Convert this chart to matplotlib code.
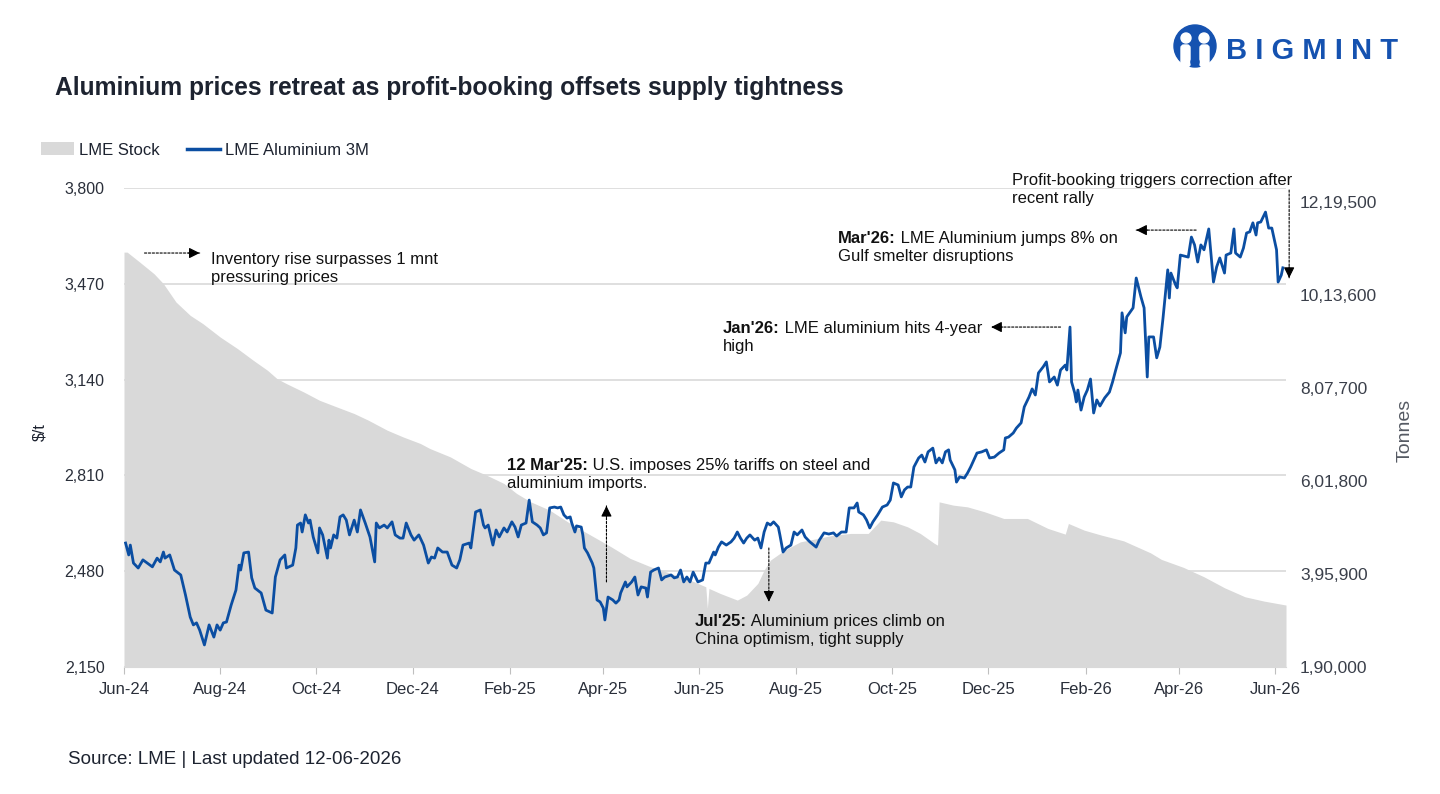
import matplotlib
matplotlib.use("Agg")
import matplotlib.pyplot as plt
import matplotlib.dates as mdates
from matplotlib.patches import Patch, Circle, FancyBboxPatch
from matplotlib.lines import Line2D
from matplotlib.ticker import FuncFormatter
import pandas as pd

plt.rcParams['font.family'] = ['Liberation Sans', 'DejaVu Sans']

# -- data ---------------------------------------------------------
price_dates = [
    "2024-06-02", "2024-06-04", "2024-06-05", "2024-06-07", "2024-06-10", "2024-06-13", "2024-06-19", "2024-06-22", "2024-06-24", "2024-06-26", "2024-06-27", "2024-06-30",
    "2024-07-03", "2024-07-07", "2024-07-10", "2024-07-13", "2024-07-15", "2024-07-17", "2024-07-19", "2024-07-22", "2024-07-25", "2024-07-28", "2024-07-30",
    "2024-08-01", "2024-08-03", "2024-08-05", "2024-08-08", "2024-08-11", "2024-08-13", "2024-08-14", "2024-08-16", "2024-08-19", "2024-08-21", "2024-08-23", "2024-08-27", "2024-08-30",
    "2024-09-03", "2024-09-05", "2024-09-08", "2024-09-11", "2024-09-12", "2024-09-16", "2024-09-18", "2024-09-19", "2024-09-21", "2024-09-22", "2024-09-24", "2024-09-26", "2024-09-27", "2024-09-29",
    "2024-10-02", "2024-10-03", "2024-10-05", "2024-10-08", "2024-10-09", "2024-10-10", "2024-10-12", "2024-10-14", "2024-10-16", "2024-10-18", "2024-10-20", "2024-10-22", "2024-10-25", "2024-10-27", "2024-10-29",
    "2024-11-01", "2024-11-04", "2024-11-07", "2024-11-08", "2024-11-10", "2024-11-13", "2024-11-15", "2024-11-18", "2024-11-20", "2024-11-23", "2024-11-25", "2024-11-27", "2024-11-30",
    "2024-12-02", "2024-12-05", "2024-12-08", "2024-12-11", "2024-12-13", "2024-12-15", "2024-12-17", "2024-12-20", "2024-12-23", "2024-12-26", "2024-12-29", "2024-12-31",
    "2025-01-02", "2025-01-06", "2025-01-07", "2025-01-10", "2025-01-13", "2025-01-15", "2025-01-16", "2025-01-18", "2025-01-21", "2025-01-23", "2025-01-25", "2025-01-28", "2025-01-30",
    "2025-02-02", "2025-02-04", "2025-02-06", "2025-02-08", "2025-02-11", "2025-02-13", "2025-02-15", "2025-02-18", "2025-02-20", "2025-02-22", "2025-02-24", "2025-02-26",
    "2025-03-01", "2025-03-03", "2025-03-05", "2025-03-07", "2025-03-09", "2025-03-11", "2025-03-12", "2025-03-14", "2025-03-15", "2025-03-18", "2025-03-19", "2025-03-20", "2025-03-22", "2025-03-25", "2025-03-26", "2025-03-28", "2025-03-30",
    "2025-04-01", "2025-04-02", "2025-04-04", "2025-04-07", "2025-04-09", "2025-04-11", "2025-04-12", "2025-04-15", "2025-04-16", "2025-04-19", "2025-04-21", "2025-04-23", "2025-04-25", "2025-04-28", "2025-04-29",
    "2025-05-01", "2025-05-03", "2025-05-06", "2025-05-08", "2025-05-10", "2025-05-14", "2025-05-16", "2025-05-18", "2025-05-20", "2025-05-22", "2025-05-24", "2025-05-26", "2025-05-28", "2025-05-31",
    "2025-06-03", "2025-06-05", "2025-06-07", "2025-06-10", "2025-06-11", "2025-06-13", "2025-06-15", "2025-06-18", "2025-06-21", "2025-06-23", "2025-06-25", "2025-06-27", "2025-06-29",
    "2025-07-01", "2025-07-03", "2025-07-06", "2025-07-08", "2025-07-10", "2025-07-12", "2025-07-14", "2025-07-16", "2025-07-18", "2025-07-21", "2025-07-22", "2025-07-24", "2025-07-26", "2025-07-29", "2025-07-31",
    "2025-08-02", "2025-08-05", "2025-08-07", "2025-08-10", "2025-08-14", "2025-08-16", "2025-08-19", "2025-08-22", "2025-08-25", "2025-08-27", "2025-08-30",
    "2025-09-02", "2025-09-04", "2025-09-07", "2025-09-09", "2025-09-10", "2025-09-13", "2025-09-15", "2025-09-17", "2025-09-19", "2025-09-22", "2025-09-25", "2025-09-28", "2025-09-30",
    "2025-10-02", "2025-10-05", "2025-10-07", "2025-10-09", "2025-10-11", "2025-10-13", "2025-10-15", "2025-10-18", "2025-10-20", "2025-10-22", "2025-10-24", "2025-10-27", "2025-10-29", "2025-10-31",
    "2025-11-02", "2025-11-04", "2025-11-06", "2025-11-07", "2025-11-10", "2025-11-11", "2025-11-13", "2025-11-16", "2025-11-18", "2025-11-20", "2025-11-22", "2025-11-24", "2025-11-27", "2025-11-30",
    "2025-12-02", "2025-12-05", "2025-12-08", "2025-12-11", "2025-12-12", "2025-12-14", "2025-12-17", "2025-12-19", "2025-12-22", "2025-12-24", "2025-12-27", "2025-12-29", "2025-12-31",
    "2026-01-02", "2026-01-05", "2026-01-07", "2026-01-09", "2026-01-12", "2026-01-14", "2026-01-16", "2026-01-19", "2026-01-20", "2026-01-22", "2026-01-23", "2026-01-25", "2026-01-26", "2026-01-27", "2026-01-29", "2026-01-31",
    "2026-02-02", "2026-02-04", "2026-02-06", "2026-02-08", "2026-02-10", "2026-02-13", "2026-02-16", "2026-02-18", "2026-02-20", "2026-02-23", "2026-02-24", "2026-02-26", "2026-02-27",
    "2026-03-03", "2026-03-05", "2026-03-08", "2026-03-10", "2026-03-12", "2026-03-13", "2026-03-16", "2026-03-18", "2026-03-20", "2026-03-22", "2026-03-25", "2026-03-26", "2026-03-27", "2026-03-30", "2026-03-31",
    "2026-04-02", "2026-04-07", "2026-04-09", "2026-04-11", "2026-04-13", "2026-04-15", "2026-04-17", "2026-04-20", "2026-04-22", "2026-04-23", "2026-04-25", "2026-04-27", "2026-04-30",
    "2026-05-01", "2026-05-04", "2026-05-06", "2026-05-07", "2026-05-10", "2026-05-12", "2026-05-14", "2026-05-16", "2026-05-18", "2026-05-20", "2026-05-21", "2026-05-23", "2026-05-26", "2026-05-28", "2026-05-30",
    "2026-06-02", "2026-06-03", "2026-06-05", "2026-06-06",
]
price_usd = [
    2577, 2536, 2570, 2508, 2491, 2519, 2495, 2525, 2512, 2546, 2525, 2536,
    2484, 2467, 2398, 2322, 2295, 2302, 2277, 2226, 2295, 2253, 2295,
    2277, 2302, 2305, 2364, 2415, 2501, 2484, 2543, 2546, 2457, 2422, 2405, 2346,
    2336, 2460, 2519, 2536, 2491, 2501, 2560, 2639, 2646, 2615, 2674, 2646, 2656, 2598,
    2543, 2629, 2605, 2525, 2587, 2560, 2605, 2594, 2667, 2674, 2656, 2605, 2656, 2615, 2691,
    2646, 2598, 2512, 2646, 2629, 2639, 2629, 2650, 2605, 2594, 2594, 2646, 2605,
    2587, 2605, 2570, 2508, 2529, 2525, 2560, 2546, 2546, 2501, 2491, 2519,
    2570, 2577, 2560, 2684, 2691, 2639, 2629, 2639, 2570, 2622, 2598, 2629, 2615,
    2650, 2632, 2598, 2639, 2646, 2725, 2650, 2639, 2629, 2605, 2612, 2698,
    2701, 2698, 2701, 2674, 2663, 2667, 2646, 2615, 2636, 2632, 2605, 2560, 2543, 2508, 2491, 2381, 2374,
    2353, 2312, 2391, 2381, 2370, 2381, 2405, 2443, 2426, 2443, 2460, 2398, 2426, 2422, 2391,
    2477, 2484, 2491, 2450, 2460, 2467, 2457, 2460, 2484, 2443, 2460, 2443, 2477, 2443,
    2450, 2508, 2508, 2546, 2536, 2563, 2581, 2570, 2581, 2594, 2615, 2594, 2577,
    2594, 2605, 2587, 2594, 2560, 2615, 2646, 2639, 2650, 2632, 2605, 2546, 2560, 2570, 2615,
    2605, 2622, 2598, 2581, 2563, 2587, 2612, 2608, 2612, 2601, 2615,
    2615, 2698, 2698, 2715, 2684, 2674, 2656, 2629, 2650, 2674, 2701, 2708, 2725,
    2784, 2777, 2736, 2760, 2770, 2770, 2839, 2870, 2880, 2856, 2891, 2904, 2853, 2870,
    2853, 2891, 2898, 2863, 2829, 2787, 2805, 2801, 2818, 2839, 2863, 2887, 2891, 2898,
    2870, 2873, 2887, 2898, 2939, 2942, 2956, 2973, 2991, 3046, 3080, 3108, 3087,
    3163, 3184, 3201, 3132, 3149, 3121, 3173, 3190, 3173, 3321, 3132, 3094, 3063, 3104, 3035, 3080,
    3104, 3142, 3025, 3070, 3049, 3077, 3097, 3132, 3173, 3232, 3370, 3301, 3356,
    3387, 3490, 3425, 3387, 3149, 3287, 3287, 3215, 3252, 3352, 3518, 3421, 3507, 3466, 3456,
    3569, 3562, 3631, 3604, 3545, 3604, 3587, 3659, 3535, 3476, 3528, 3559, 3507,
    3569, 3576, 3659, 3576, 3562, 3593, 3645, 3649, 3680, 3638, 3680, 3683, 3717, 3662, 3662,
    3587, 3476, 3500, 3525,
]

stock_dates = [
    "2024-06-01", "2024-06-03", "2024-06-11", "2024-06-20", "2024-06-26", "2024-07-04", "2024-07-13", "2024-07-21",
    "2024-08-01", "2024-08-12", "2024-08-22", "2024-08-31", "2024-09-06", "2024-09-12", "2024-09-23", "2024-10-03",
    "2024-10-14", "2024-10-25", "2024-11-03", "2024-11-15", "2024-11-25", "2024-12-06", "2024-12-12", "2024-12-25",
    "2025-01-07", "2025-01-17", "2025-01-28", "2025-02-05", "2025-02-14", "2025-02-26", "2025-03-11", "2025-03-24",
    "2025-04-06", "2025-04-18", "2025-05-01", "2025-05-14", "2025-05-26", "2025-06-05", "2025-06-06", "2025-06-07",
    "2025-06-14", "2025-06-25", "2025-07-01", "2025-07-08", "2025-07-12", "2025-07-16", "2025-07-25", "2025-08-04",
    "2025-08-15", "2025-08-25", "2025-09-05", "2025-09-16", "2025-09-24", "2025-10-02", "2025-10-11", "2025-10-19",
    "2025-10-28", "2025-10-30", "2025-10-31", "2025-11-09", "2025-11-18", "2025-11-29", "2025-12-11", "2025-12-26",
    "2026-01-08", "2026-01-19", "2026-01-21", "2026-01-31", "2026-02-11", "2026-02-25", "2026-03-14", "2026-03-21",
    "2026-04-04", "2026-04-17", "2026-04-30", "2026-05-13", "2026-05-25", "2026-06-08",
]
stock_t = [
    1109500, 1109500, 1087300, 1061700, 1039500, 998800, 969300, 951000,
    921300, 895600, 869700, 847600, 829200, 818100, 799500, 781100,
    766300, 751700, 736900, 714700, 699900, 685300, 674200, 655600,
    629900, 615100, 596700, 574600, 556000, 537600, 508100, 482200,
    456300, 430700, 412100, 397400, 382600, 367800, 320000, 364200,
    353200, 338300, 349400, 375300, 404800, 426900, 449000, 467400,
    474900, 482200, 486000, 486000, 515500, 511700, 500600, 486000,
    463900, 460100, 556000, 548700, 544900, 533800, 519200, 519200,
    497100, 484500, 508100, 493300, 482200, 469600, 443100, 428400,
    410700, 389900, 365600, 345600, 336100, 327300,
]

price_ticks = [2150, 2480, 2810, 3140, 3470, 3800]
stock_ticks = [190000, 395900, 601800, 807700, 1013600, 1219500]
stock_tick_labels = ["1,90,000", "3,95,900", "6,01,800", "8,07,700", "10,13,600", "12,19,500"]

BLUE = '#0b4ea2'
GREY = '#d9d9d9'
INK = '#1d2330'
LOGO = '#1552b0'

price = pd.Series(price_usd, index=pd.to_datetime(price_dates))
stock = pd.Series(stock_t, index=pd.to_datetime(stock_dates))

# -- figure -------------------------------------------------------
fig = plt.figure(figsize=(14.4, 7.94), dpi=100)
ax = fig.add_axes([124/1440, 1-667/794, (1286-124)/1440, (667-188)/794])
ax2 = ax.twinx()
ax.set_zorder(ax2.get_zorder() + 1)
ax.patch.set_visible(False)

ax2.fill_between(stock.index, stock.values, 0, color=GREY, lw=0)
ax2.set_ylim(190000, 1251600)
ax2.set_yticks(stock_ticks, labels=stock_tick_labels)
ax2.tick_params(axis='y', length=0, pad=10, labelsize=12.5, labelcolor='#3a3f4a')

ax.plot(price.index, price.values, color=BLUE, lw=2.0, solid_joinstyle='round')
ax.set_ylim(2150, 3800)
ax.set_yticks(price_ticks)
ax.yaxis.set_major_formatter(FuncFormatter(lambda v, p: f"{v:,.0f}"))
ax.yaxis.grid(True, color=GREY, lw=1.2)
ax.set_axisbelow(True)
ax.tick_params(axis='y', length=0, pad=14, labelsize=11.5, labelcolor='#2a2f3a')

ax.set_xlim(pd.Timestamp("2024-06-01"), pd.Timestamp("2026-06-08"))
ax.xaxis.set_major_locator(mdates.MonthLocator(bymonth=(2, 4, 6, 8, 10, 12)))
ax.xaxis.set_major_formatter(mdates.DateFormatter('%b-%y'))
ax.tick_params(axis='x', length=5, color='#bfbfbf', pad=6, labelsize=12, labelcolor='#2a2f3a')

for a in (ax, ax2):
    for s in a.spines.values():
        s.set_visible(False)
ax.spines['bottom'].set_visible(True)
ax.spines['bottom'].set_color(GREY)

# -- annotations --------------------------------------------------
FS = 12


def note(x, y, head, line1, line2):
    kw = dict(fontsize=FS, color='#111111', annotation_clip=False)
    if head:
        t = ax.text(pd.Timestamp(x), y, head, fontweight='bold', va='baseline', fontsize=FS, color='#111111')
        ax.annotate(line1, xy=(1, 0), xycoords=t, va='bottom', **kw)
    else:
        t = ax.text(pd.Timestamp(x), y, line1, va='baseline', fontsize=FS, color='#111111')
    ax.annotate(line2, xy=(0, 0), xycoords=t, xytext=(0, -13), textcoords='offset points', va='bottom', **kw)


def dashed_arrow(start, end, back):
    s = (pd.Timestamp(start[0]), start[1])
    e = (pd.Timestamp(end[0]), end[1])
    ax.annotate('', xy=e, xytext=s, annotation_clip=False,
                arrowprops=dict(arrowstyle='-', lw=0.8, ls=(0, (2, 1.5)), color='k', shrinkA=0, shrinkB=0))
    ax.annotate('', xy=e, xytext=back, textcoords='offset points', annotation_clip=False,
                arrowprops=dict(arrowstyle='-|>', lw=0.8, color='k', mutation_scale=16, shrinkA=0, shrinkB=0))


note("2024-07-26", 3538, None, "Inventory rise surpasses 1 mnt", "pressuring prices")
dashed_arrow(("2024-06-14", 3576), ("2024-07-19", 3576), (-8, 0))

note("2025-01-30", 2829, "12 Mar'25:", " U.S. imposes 25% tariffs on steel and", "aluminium imports.")
dashed_arrow(("2025-04-03", 2443), ("2025-04-03", 2705), (0, -8))

note("2025-05-29", 2291, "Jul'25:", " Aluminium prices climb on", "China optimism, tight supply")
dashed_arrow(("2025-07-15", 2560), ("2025-07-15", 2375), (0, 8))

note("2025-06-16", 3301, "Jan'26:", " LME aluminium hits 4-year", "high")
dashed_arrow(("2026-01-16", 3321), ("2025-12-03", 3321), (8, 0))

note("2025-08-28", 3611, "Mar'26:", " LME Aluminium jumps 8% on", "Gulf smelter disruptions")
dashed_arrow(("2026-04-12", 3655), ("2026-03-05", 3655), (8, 0))

note("2025-12-16", 3810, None, "Profit-booking triggers correction after", "recent rally")
dashed_arrow(("2026-06-10", 3793), ("2026-06-10", 3490), (0, 8))

# -- texts, legend ------------------------------------------------
fig.text(55/1440, 1-88/794, "Aluminium prices retreat as profit-booking offsets supply tightness",
         fontsize=17.7, fontweight='bold', color=INK, va='center')
fig.text(68/1440, 1-760/794, "Source: LME | Last updated 12-06-2026", fontsize=13.5, color=INK, va='center')
fig.text(40/1440, 1-432/794, r"\$/t", rotation=90, fontsize=11.5, color=INK, va='center', ha='center')
fig.text(1405/1440, 1-430/794, "Tonnes", rotation=90, fontsize=14, color='#555a63', va='center', ha='center')

handles = [Patch(facecolor=GREY, edgecolor='none', label='LME Stock'),
           Line2D([], [], color=BLUE, lw=2.5, label='LME Aluminium 3M')]
fig.legend(handles=handles, loc='center left', bbox_to_anchor=(26/1440, 1-150/794), ncol=2, frameon=False,
           fontsize=12, handlelength=2.0, handleheight=0.8, handletextpad=0.3, columnspacing=1.6,
           labelcolor=INK)

# -- logo ---------------------------------------------------------
lax = fig.add_axes([1168/1440, 1-72/794, 240/1440, 50/794])
lax.set_xlim(1168, 1408)
lax.set_ylim(72, 22)
lax.axis('off')
lax.add_patch(Circle((1195, 46), 21, color=LOGO))
lax.add_patch(Circle((1186, 38), 5, color='white'))
lax.add_patch(Circle((1204, 38), 5, color='white'))
lax.add_patch(FancyBboxPatch((1181, 45), 9, 22, boxstyle='round,pad=0,rounding_size=3', color='white'))
lax.add_patch(FancyBboxPatch((1200, 45), 9, 22, boxstyle='round,pad=0,rounding_size=3', color='white'))
lax.add_patch(Circle((1195, 62), 4, color=LOGO))
lax.text(1226, 51, "B I G M I N T", fontsize=21, fontweight='bold', color=LOGO, va='center',
         family=['Liberation Sans', 'DejaVu Sans'])

fig.savefig("out.png", dpi=100)
